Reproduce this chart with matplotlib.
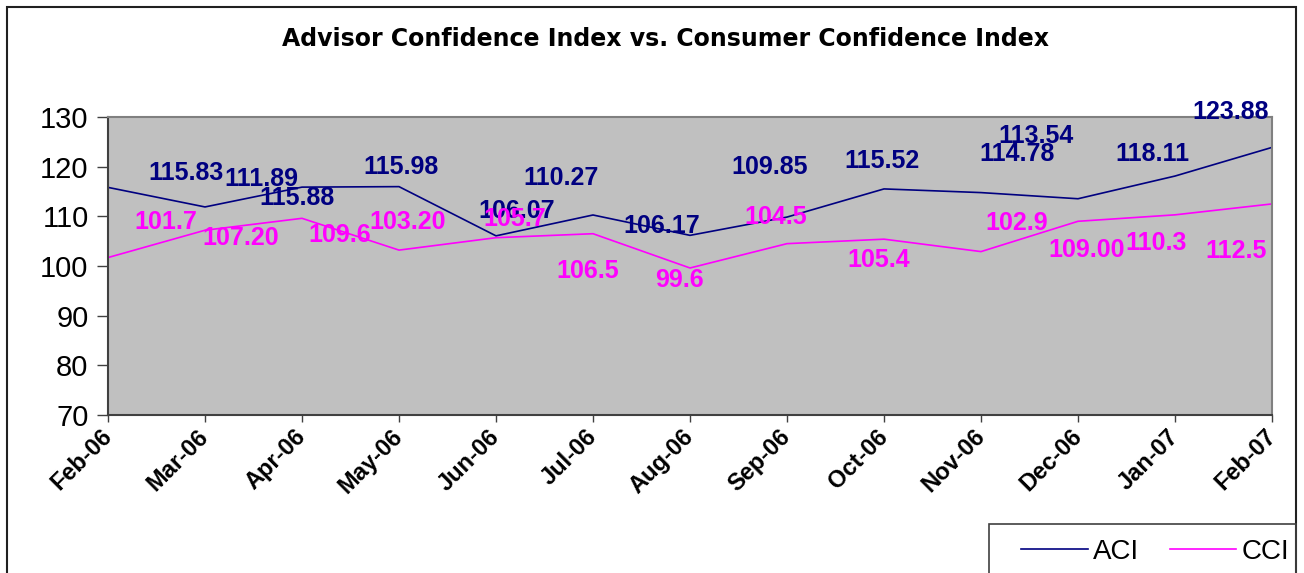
import matplotlib
matplotlib.use("Agg")
from matplotlib import pyplot as plt
from matplotlib.patches import Rectangle
from matplotlib.transforms import ScaledTranslation

# 数据
months = ['Feb-06', 'Mar-06', 'Apr-06', 'May-06', 'Jun-06', 'Jul-06', 'Aug-06',
          'Sep-06', 'Oct-06', 'Nov-06', 'Dec-06', 'Jan-07', 'Feb-07']
aci = [115.83, 111.89, 115.88, 115.98, 106.07, 110.27, 106.17,
       109.85, 115.52, 114.78, 113.54, 118.11, 123.88]
cci = [101.7, 107.20, 109.6, 103.20, 105.7, 106.5, 99.6,
       104.5, 105.4, 102.9, 109.00, 110.3, 112.5]
aci_text = ['115.83', '111.89', '115.88', '115.98', '106.07', '110.27', '106.17',
            '109.85', '115.52', '114.78', '113.54', '118.11', '123.88']
cci_text = ['101.7', '107.20', '109.6', '103.20', '105.7', '106.5', '99.6',
            '104.5', '105.4', '102.9', '109.00', '110.3', '112.5']

# 标签偏移 (像素, 向右/向上)
aci_off = [(78, 14), (56, 28), (-5, -11), (2, 20), (21, 25), (-32, 37), (-28, 9),
           (-17, 50), (-2, 28), (36, 39), (-42, 63), (-23, 22), (-41, 35)]
cci_off = [(58, 36), (36, -8), (38, -17), (9, 28), (19, 19), (-5, -37), (-11, -12),
           (-11, 27), (-5, -21), (36, 29), (9, -29), (-19, -28), (-36, -47)]

navy = '#000080'
magenta = '#FF00FF'

plt.rcParams['font.family'] = ['Liberation Sans', 'DejaVu Sans']
fig = plt.figure(figsize=(13.04, 5.73), dpi=100)
ax = fig.add_axes([108 / 1304, 1 - 415 / 573, (1272 - 108) / 1304, (415 - 117) / 573])
ax.set_facecolor('#C0C0C0')

x = list(range(len(months)))
ax.plot(x, aci, color=navy, linewidth=1.2, label='ACI')
ax.plot(x, cci, color=magenta, linewidth=1.2, label='CCI')

for i in x:
    ax.annotate(aci_text[i], (i, aci[i]), xytext=aci_off[i], textcoords='offset pixels',
                ha='center', va='center', color=navy, fontsize=18, fontweight='bold',
                annotation_clip=False)
    ax.annotate(cci_text[i], (i, cci[i]), xytext=cci_off[i], textcoords='offset pixels',
                ha='center', va='center', color=magenta, fontsize=18, fontweight='bold',
                annotation_clip=False)

ax.set_xlim(0, 12)
ax.set_ylim(70, 130)
ax.set_yticks(range(70, 131, 10))
ax.set_xticks(x)
ax.set_xticklabels([])
# x轴月份标签 (左移, 45度)
lab_trans = ax.get_xaxis_transform() + ScaledTranslation(-8 / 100, -10 / 100, fig.dpi_scale_trans)
for i in x:
    ax.text(i, 0, months[i], transform=lab_trans, rotation=45, ha='right', va='top',
            rotation_mode='anchor', fontsize=17, fontweight='bold', clip_on=False)
ax.tick_params(axis='y', direction='out', length=8, width=1, colors='#404040',
               labelcolor='black', labelsize=21, pad=6)
ax.tick_params(axis='x', direction='out', length=5, width=1, colors='#404040')
for s in ['left', 'bottom']:
    ax.spines[s].set_color('#404040')
    ax.spines[s].set_linewidth(1.5)
for s in ['top', 'right']:
    ax.spines[s].set_color('#808080')
    ax.spines[s].set_linewidth(1.5)

fig.text(665 / 1304, 1 - 39 / 573, 'Advisor Confidence Index vs. Consumer Confidence Index',
         ha='center', va='center', fontsize=17, fontweight='bold', family='DejaVu Sans')

# 外框
fig.patches.append(Rectangle((7 / 1304, -0.1), (1296 - 7) / 1304, 1.1 - 7 / 573,
                             transform=fig.transFigure, fill=False, edgecolor='#202020',
                             linewidth=1.5))
# 图例框
fig.patches.append(Rectangle((989 / 1304, -0.1), (1296 - 989) / 1304, 0.1 + 1 - 524 / 573,
                             transform=fig.transFigure, fill=False, edgecolor='#404040',
                             linewidth=1.2))
fig.legend(loc='center left', bbox_to_anchor=(1007 / 1304, 1 - 552 / 573), ncol=2,
           frameon=False, fontsize=20, handlelength=2.4, handletextpad=0.2,
           columnspacing=1.1, borderpad=0)

plt.savefig('out.png', dpi=100)
